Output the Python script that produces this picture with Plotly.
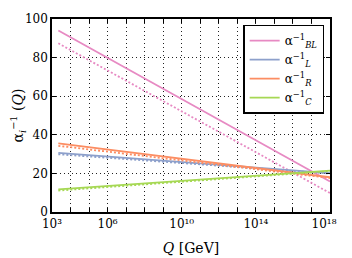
import plotly.graph_objects as go

# Energy scale endpoints (GeV)
Q = [2.2e3, 1e18]

# Inverse couplings, solid (one-loop) and dotted (alternate) running
a_BL = [94.0, 15.8]
a_BL_dot = [87.4, 9.8]
a_L = [30.6, 20.1]
a_L_dot = [29.9, 19.9]
a_R = [35.6, 18.0]
a_R_dot = [34.3, 17.6]
a_C = [11.7, 21.4]
a_C_dot = [11.1, 21.2]

names = ["α<sup>−1</sup><sub><i>BL</i></sub>", "α<sup>−1</sup><sub><i>L</i></sub>",
         "α<sup>−1</sup><sub><i>R</i></sub>", "α<sup>−1</sup><sub><i>C</i></sub>"]
colors = ["#E78AC3", "#8DA0CB", "#FC8D62", "#A6D854"]

decades = list(range(3, 19))
labeled = {3: "10³", 6: "10⁶", 10: "10¹⁰", 14: "10¹⁴", 18: "10¹⁸\u2003"}
xtickvals = [10.0 ** d for d in decades]
xticktext = [labeled.get(d, "") for d in decades]

fig = go.Figure()
for solid, dotted, name, col in zip([a_BL, a_L, a_R, a_C], [a_BL_dot, a_L_dot, a_R_dot, a_C_dot], names, colors):
    fig.add_trace(go.Scatter(x=Q, y=dotted, mode="lines", line=dict(color=col, width=1.8, dash="2px,2px"),
                             showlegend=False, hoverinfo="skip"))
    fig.add_trace(go.Scatter(x=Q, y=solid, mode="lines", line=dict(color=col, width=1.8), name=name))

font = dict(family="DejaVu Serif", size=12, color="black")
# page body has an 8px default margin, so the figure is sized/offset to compensate
fig.update_layout(
    width=344, height=250,
    margin=dict(l=44, r=16, t=4, b=42),
    paper_bgcolor="white", plot_bgcolor="white",
    font=font,
    legend=dict(x=0.979, xanchor="right", y=0.971, yanchor="top", bordercolor="black", borderwidth=1.5,
                bgcolor="white", font=dict(size=12), tracegroupgap=0, itemwidth=30),
)
fig.update_xaxes(type="log", range=[3, 18], tickvals=xtickvals, ticktext=xticktext,
                 showline=True, linecolor="black", linewidth=1.5, mirror="ticks",
                 ticks="inside", ticklen=4, tickcolor="black", ticklabeloverflow="allow",
                 showgrid=True, gridcolor="#222", gridwidth=1, griddash="1px,3px",
                 zeroline=False,
                 title=dict(text="<i>Q</i> [GeV]", standoff=13))
fig.update_yaxes(range=[0, 100], tickvals=[0, 20, 40, 60, 80, 100],
                 showline=True, linecolor="black", linewidth=1.5, mirror="ticks",
                 ticks="inside", ticklen=4, tickcolor="black", ticklabeloverflow="allow",
                 showgrid=True, gridcolor="#222", gridwidth=1, griddash="1px,3px",
                 zeroline=False,
                 title=dict(text="α<sub><i>i</i></sub><sup>−1</sup> (<i>Q</i>)", standoff=2))
fig.write_html("out.html")
